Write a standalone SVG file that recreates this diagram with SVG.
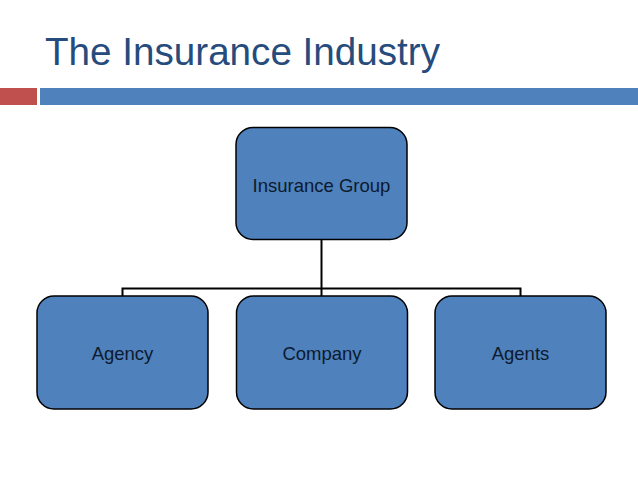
<svg xmlns="http://www.w3.org/2000/svg" width="638" height="479" viewBox="0 0 638 479">
<style>
.title{font-family:"Liberation Sans",Arial,sans-serif;font-size:38px;fill:#264B7D}
.node rect{fill:#4F81BD;stroke:#000;stroke-width:1.5}
.node text{font-family:"Liberation Sans",Arial,sans-serif;font-size:18.5px;fill:#0D1A2E;text-anchor:middle}
.conn{fill:none;stroke:#000;stroke-width:2}
</style>
<rect width="638" height="479" fill="#fff"/>
<text class="title" x="45" y="65" textLength="395" lengthAdjust="spacingAndGlyphs">The Insurance Industry</text>
<rect x="0" y="88" width="37" height="17" fill="#C0504D"/>
<rect x="40" y="88" width="598" height="17" fill="#4F81BD"/>
<g id="connectors">
<path class="conn" d="M321.5,240 V288.5"/>
<path class="conn" d="M122.5,296 V288.5 H520.5 V296"/>
<path class="conn" d="M321.5,288.5 V296"/>
</g>
<g id="insurance-group" class="node">
<rect x="236" y="127.5" width="171" height="112" rx="17"/>
<text x="321.5" y="192">Insurance Group</text>
</g>
<g id="agency" class="node">
<rect x="37" y="296" width="171" height="113" rx="17"/>
<text x="122.5" y="360">Agency</text>
</g>
<g id="company" class="node">
<rect x="236.5" y="296" width="171" height="113" rx="17"/>
<text x="322" y="360">Company</text>
</g>
<g id="agents" class="node">
<rect x="435" y="296" width="171" height="113" rx="17"/>
<text x="520.5" y="360">Agents</text>
</g>
</svg>
